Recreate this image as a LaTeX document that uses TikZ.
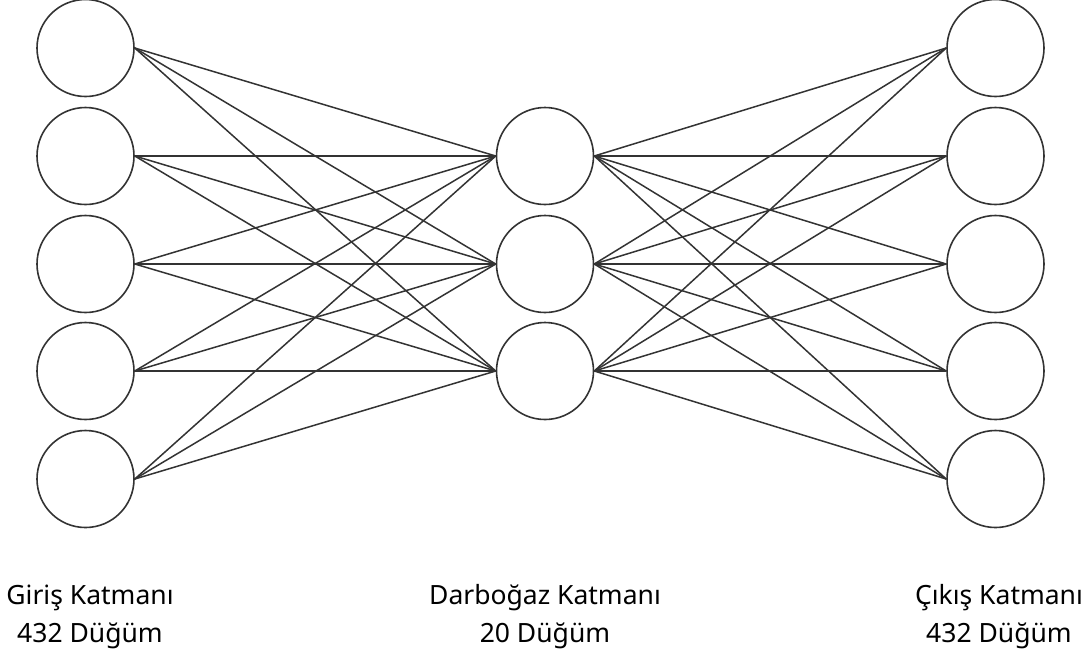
\documentclass[tikz,border=0pt]{standalone}
\usepackage{fontspec}
\setmainfont{Noto Sans}
\usepackage{tikz}

\definecolor{strokegray}{HTML}{333333}

\begin{document}
\begin{tikzpicture}[x=1pt,y=-1pt,
		neuron/.style={circle,draw=strokegray,line width=1.6pt,minimum size=97pt,inner sep=0pt},
		link/.style={draw=strokegray,line width=1.5pt},
		caption/.style={align=center,font=\fontsize{26.5}{38}\selectfont}]
			\useasboundingbox (0,0) rectangle (1091,657);
			% input layer, bottleneck and output layer
			\foreach \i/\y in {1/48,2/156,3/264,4/371,5/479} {
				\node[neuron] (in\i) at (85.5,\y) {};
				\node[neuron] (out\i) at (995.5,\y) {};
			}
			\foreach \j/\y in {1/156,2/264,3/371}
				\node[neuron] (mid\j) at (545,\y) {};
			% every node meets every bottleneck node
			\foreach \i in {1,...,5}
				\foreach \j in {1,2,3} {
					\draw[link] (in\i.east) -- (mid\j.west);
					\draw[link] (mid\j.east) -- (out\i.west);
				}
			\node[caption] (incap) at (90,617) {Giriş Katmanı\\432 Düğüm};
			\node[caption] (midcap) at (545,617) {Darboğaz Katmanı\\20 Düğüm};
			\node[caption] (outcap) at (999,617) {Çıkış Katmanı\\432 Düğüm};
		\end{tikzpicture}
\end{document}
